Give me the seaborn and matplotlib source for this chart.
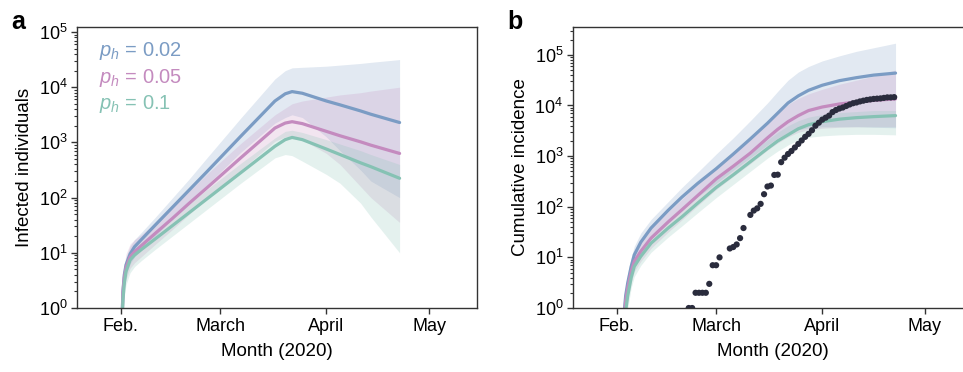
import matplotlib
matplotlib.use("Agg")
import matplotlib.pyplot as plt
import numpy as np
import pandas as pd
import seaborn as sns

# ---- data (log10 values; days counted from 2020-02-01) ----
start = pd.Timestamp("2020-02-01")
labels = ["$p_h$ = 0.02", "$p_h$ = 0.05", "$p_h$ = 0.1"]
colors = ["#7b9cc4", "#c48bbf", "#86c2b4"]

# panel a: infected individuals
a_days = [0.3, 0.6, 1, 1.5, 2.7, 4, 6, 10, 15, 20, 25, 35, 45, 48, 50, 53, 60, 64, 70, 73, 81.4]
a_mean_002 = [-0.3, 0.3, 0.6, 0.78, 0.98, 1.11, 1.24, 1.5, 1.82, 2.14, 2.46, 3.11, 3.75, 3.88, 3.92, 3.89, 3.75, 3.68, 3.57, 3.51, 3.36]
a_mean_005 = [-0.3, 0.28, 0.55, 0.73, 0.93, 1.02, 1.13, 1.35, 1.62, 1.9, 2.17, 2.72, 3.26, 3.35, 3.375, 3.34, 3.2, 3.12, 3.01, 2.95, 2.8]
a_mean_01 = [-0.4, 0.15, 0.45, 0.66, 0.87, 0.96, 1.06, 1.25, 1.49, 1.73, 1.97, 2.45, 2.93, 3.05, 3.09, 3.05, 2.88, 2.78, 2.63, 2.56, 2.35]
a_hi_002 = [0, 0.5, 0.75, 0.92, 1.12, 1.24, 1.37, 1.64, 1.99, 2.34, 2.71, 3.44, 4.15, 4.3, 4.35, 4.36, 4.38, 4.4, 4.43, 4.45, 4.5]
a_lo_002 = [-0.5, 0.1, 0.4, 0.6, 0.8, 0.93, 1.05, 1.3, 1.62, 1.92, 2.22, 2.82, 3.35, 3.45, 3.5, 3.45, 3.1, 2.85, 2.5, 2.3, 2.0]
a_hi_005 = [0, 0.55, 0.8, 0.98, 1.16, 1.24, 1.33, 1.54, 1.82, 2.12, 2.42, 2.98, 3.5, 3.62, 3.7, 3.75, 3.82, 3.86, 3.9, 3.93, 4.0]
a_lo_005 = [-0.5, 0.05, 0.33, 0.52, 0.72, 0.82, 0.93, 1.15, 1.42, 1.7, 1.97, 2.5, 3.02, 3.1, 3.12, 3.05, 2.8, 2.6, 2.2, 2.0, 1.55]
a_hi_01 = [-0.2, 0.4, 0.65, 0.82, 1.0, 1.09, 1.19, 1.39, 1.64, 1.89, 2.14, 2.62, 3.08, 3.2, 3.22, 3.18, 3.05, 2.97, 2.85, 2.78, 2.6]
a_lo_01 = [-0.6, -0.1, 0.2, 0.42, 0.64, 0.75, 0.86, 1.06, 1.3, 1.54, 1.78, 2.26, 2.72, 2.78, 2.76, 2.66, 2.42, 2.26, 1.9, 1.65, 1.0]

# panel b: cumulative incidence
b_days = [2.0, 2.6, 3.2, 4.2, 5.1, 7, 10, 15, 19, 23.6, 29, 34, 39, 44, 47, 50, 53, 56, 60, 65, 70, 75, 81.4]
b_mean_002 = [-0.2, 0.25, 0.5, 0.82, 1.05, 1.3, 1.58, 1.93, 2.19, 2.46, 2.75, 3.04, 3.34, 3.65, 3.85, 4.05, 4.19, 4.3, 4.4, 4.49, 4.55, 4.6, 4.64]
b_mean_005 = [-0.3, 0.15, 0.4, 0.72, 0.92, 1.12, 1.38, 1.7, 1.94, 2.22, 2.55, 2.8, 3.06, 3.36, 3.53, 3.68, 3.8, 3.9, 3.97, 4.03, 4.07, 4.1, 4.13]
b_mean_01 = [-0.6, -0.05, 0.25, 0.6, 0.82, 1.02, 1.28, 1.58, 1.8, 2.07, 2.38, 2.63, 2.89, 3.15, 3.3, 3.42, 3.54, 3.62, 3.68, 3.73, 3.76, 3.78, 3.8]
b_hi_002 = [0, 0.45, 0.7, 1.0, 1.22, 1.48, 1.75, 2.1, 2.38, 2.68, 3.04, 3.36, 3.7, 4.05, 4.28, 4.5, 4.66, 4.77, 4.88, 4.98, 5.07, 5.14, 5.23]
b_lo_002 = [-0.5, 0.0, 0.3, 0.62, 0.85, 1.08, 1.36, 1.68, 1.92, 2.2, 2.46, 2.72, 2.97, 3.22, 3.36, 3.46, 3.52, 3.56, 3.58, 3.58, 3.58, 3.57, 3.56]
b_hi_005 = [0, 0.42, 0.62, 0.9, 1.08, 1.3, 1.58, 1.9, 2.15, 2.44, 2.78, 3.05, 3.33, 3.65, 3.85, 4.02, 4.14, 4.23, 4.32, 4.42, 4.5, 4.58, 4.7]
b_lo_005 = [-0.6, -0.15, 0.15, 0.5, 0.72, 0.92, 1.18, 1.5, 1.74, 2.02, 2.34, 2.6, 2.85, 3.12, 3.26, 3.38, 3.47, 3.52, 3.55, 3.57, 3.58, 3.58, 3.58]
b_hi_01 = [-0.3, 0.2, 0.45, 0.78, 0.98, 1.18, 1.44, 1.74, 1.97, 2.24, 2.55, 2.81, 3.06, 3.32, 3.47, 3.6, 3.7, 3.77, 3.82, 3.86, 3.88, 3.9, 3.9]
b_lo_01 = [-0.8, -0.35, 0.0, 0.4, 0.62, 0.84, 1.1, 1.4, 1.62, 1.88, 2.18, 2.44, 2.7, 2.96, 3.1, 3.22, 3.32, 3.37, 3.4, 3.42, 3.43, 3.43, 3.42]

# reported cumulative cases (dots)
obs_days = [21, 22, 23, 24, 25, 26, 27, 28, 29, 30, 33, 34, 35, 36, 37, 39, 40, 41, 42, 43,
            44, 45, 46, 47, 48, 49, 50, 51, 52, 53, 54, 55, 56, 57, 58, 59, 60, 61, 62, 63,
            64, 65, 66, 67, 68, 69, 70, 71, 72, 73, 74, 75, 76, 77, 78, 79, 80, 81]
obs_cases = [1, 1, 2, 2, 2, 2, 3, 7, 7, 10, 15, 16, 18, 24, 38, 69, 84, 93, 114, 177,
             251, 262, 425, 430, 760, 930, 1100, 1260, 1480, 1740, 2040, 2400, 2750, 3240, 3980, 4570, 5250, 5750, 6310, 7410,
             8130, 8710, 9120, 9770, 10470, 11090, 11480, 12020, 12450, 12880, 13180, 13490, 13650, 13800, 14130, 14450, 14450, 14620]


def to_dates(days):
    return start + pd.to_timedelta(np.asarray(days, dtype=float), unit="D")


def draw_panel(ax, days, means, his, los):
    x = to_dates(days)
    for hi, lo, c in zip(his, los, colors):
        ax.fill_between(x, 10 ** np.array(lo), 10 ** np.array(hi), color=c, alpha=0.22, lw=0)
    frames = []
    for m, lab in zip(means, labels):
        frames.append(pd.DataFrame({"date": x, "value": 10 ** np.array(m), "series": lab}))
    df = pd.concat(frames, ignore_index=True)
    sns.lineplot(data=df, x="date", y="value", hue="series", palette=colors,
                 lw=2.3, ax=ax, legend=False, sort=False)


sns.set_style("ticks")
plt.rcParams["font.family"] = ["Liberation Sans", "DejaVu Sans"]
plt.rcParams["mathtext.fontset"] = "custom"
plt.rcParams["mathtext.rm"] = "Liberation Sans"
plt.rcParams["mathtext.it"] = "Liberation Sans:italic"
plt.rcParams["axes.edgecolor"] = "#333333"
plt.rcParams["text.color"] = "black"
plt.rcParams["axes.labelcolor"] = "black"
plt.rcParams["xtick.color"] = "black"
plt.rcParams["ytick.color"] = "black"

fig = plt.figure(figsize=(9.63, 3.72), dpi=100)
ax_a = fig.add_axes([0.080, 0.172, 0.4153, 0.7554])
ax_b = fig.add_axes([0.595, 0.172, 0.4153, 0.7554])

draw_panel(ax_a, a_days, [a_mean_002, a_mean_005, a_mean_01],
           [a_hi_002, a_hi_005, a_hi_01], [a_lo_002, a_lo_005, a_lo_01])
draw_panel(ax_b, b_days, [b_mean_002, b_mean_005, b_mean_01],
           [b_hi_002, b_hi_005, b_hi_01], [b_lo_002, b_lo_005, b_lo_01])

obs = pd.DataFrame({"date": to_dates(obs_days), "cases": obs_cases})
sns.scatterplot(data=obs, x="date", y="cases", color="#2a2c3d", s=20,
                edgecolor="none", ax=ax_b, zorder=5)

tick_dates = [pd.Timestamp("2020-02-01"), pd.Timestamp("2020-03-01"),
              pd.Timestamp("2020-04-01"), pd.Timestamp("2020-05-01")]
tick_labels = ["Feb.", "March", "April", "May"]

for ax, ylab, ytop in [(ax_a, "Infected individuals", 10 ** 5.09),
                       (ax_b, "Cumulative incidence", 10 ** 5.55)]:
    ax.set_yscale("log")
    ax.set_ylim(1, ytop)
    ax.set_xlim(start - pd.Timedelta(days=12.8), start + pd.Timedelta(days=104))
    ax.set_xticks(tick_dates)
    ax.set_xticklabels(tick_labels)
    ax.xaxis.set_minor_locator(matplotlib.ticker.NullLocator())
    ax.set_xlabel("Month (2020)", fontsize=13.5, labelpad=6)
    ax.set_ylabel(ylab, fontsize=13.5, labelpad=4)
    ax.tick_params(axis="both", which="major", labelsize=13, length=4, width=1, pad=3,
                   color="#333333")
    ax.tick_params(axis="y", which="minor", length=2, width=0.8, color="#333333")
    for s in ax.spines.values():
        s.set_linewidth(1.0)

for i, (lab, c) in enumerate(zip(labels, colors)):
    ax_a.text(0.055, 0.915 - i * 0.095, lab, color=c, fontsize=14.5,
              transform=ax_a.transAxes, va="center", ha="left")

fig.text(0.012, 0.94, "a", fontsize=18, fontweight="bold", va="center")
fig.text(0.527, 0.94, "b", fontsize=18, fontweight="bold", va="center")

fig.savefig("out.png", dpi=100)
